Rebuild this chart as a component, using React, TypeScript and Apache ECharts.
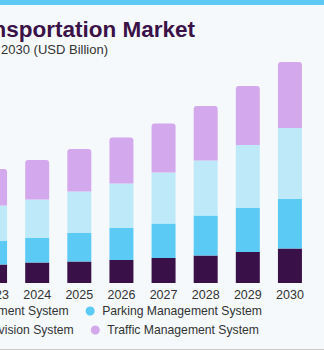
import React, { useEffect, useRef } from "react";
import * as echarts from "echarts";

const years = ["2023", "2024", "2025", "2026", "2027", "2028", "2029", "2030"];
const ticketing = [3.7, 4.1, 4.3, 4.6, 5.0, 5.5, 6.2, 6.9];
const parking = [4.7, 4.9, 5.7, 6.4, 6.9, 8.0, 8.8, 9.9];
const supervision = [7.1, 7.7, 8.3, 8.9, 10.2, 11.0, 12.6, 14.2];
const traffic = [7.3, 7.9, 8.5, 9.2, 9.8, 10.9, 11.8, 13.2];

const seriesNames = [
  "Ticketing Management System",
  "Parking Management System",
  "Integrated Supervision System",
  "Traffic Management System",
];
const colors = ["#3A1049", "#5BCBF5", "#BDE9F9", "#D4A8EC"];

const OFFSET = 200;
const FONT = "Liberation Sans";

export default function App() {
  const ref = useRef<HTMLDivElement>(null);
  useEffect(() => {
    if (!ref.current) return;
    const chart = echarts.init(ref.current, undefined, { renderer: "svg" });
    const data = [ticketing, parking, supervision, traffic];
    const legendBase = {
      icon: "circle",
      orient: "horizontal",
      padding: 0,
      itemWidth: 14,
      itemHeight: 9,
      itemGap: 17,
      textStyle: { fontSize: 12.2, color: "#333333", fontFamily: FONT },
    };
    chart.setOption({
      animation: false,
      backgroundColor: "transparent",
      textStyle: { fontFamily: FONT },
      graphic: [
        {
          type: "text",
          x: 195 + OFFSET,
          y: 29,
          style: {
            text: "Smart Transportation Market",
            align: "right",
            verticalAlign: "middle",
            fontSize: 22.5,
            fontWeight: "bold",
            fontFamily: FONT,
            fill: "#3B1248",
          },
        },
        {
          type: "text",
          x: 108 + OFFSET,
          y: 49,
          style: {
            text: "Size, by Solution, 2020 - 2030 (USD Billion)",
            align: "right",
            verticalAlign: "middle",
            fontSize: 13,
            fontFamily: FONT,
            fill: "#333333",
          },
        },
      ],
      legend: [
        {
          ...legendBase,
          data: [seriesNames[0], seriesNames[1]],
          right: 324 - 262,
          top: 305,
        },
        {
          ...legendBase,
          data: [seriesNames[2], seriesNames[3]],
          right: 324 - 259,
          top: 324,
        },
      ],
      grid: { left: OFFSET - 26, right: 13, top: 58, bottom: 67 },
      xAxis: {
        type: "category",
        data: years,
        axisLine: { show: false },
        axisTick: { show: false },
        axisLabel: { fontSize: 12.5, color: "#333333", margin: 5, fontFamily: FONT },
      },
      yAxis: {
        type: "value",
        min: 0,
        max: 45,
        show: false,
        splitLine: { show: false },
      },
      series: seriesNames.map((name, i) => ({
        name,
        type: "bar",
        stack: "total",
        barWidth: 24,
        data: data[i],
        itemStyle: {
          color: colors[i],
          borderRadius: i === 3 ? [3, 3, 0, 0] : 0,
        },
      })),
    });
    return () => chart.dispose();
  }, []);
  return (
    <div
      style={{
        position: "fixed",
        left: 0,
        top: 0,
        width: 324,
        height: 350,
        overflow: "hidden",
        background: "#F5F9FC",
        boxSizing: "border-box",
        borderTop: "5px solid #5CC8F3",
        borderBottom: "1px solid #CCCCCC",
      }}
    >
      <div
        ref={ref}
        style={{ position: "absolute", left: -OFFSET, top: -5, width: 324 + OFFSET, height: 350 }}
      />
    </div>
  );
}
